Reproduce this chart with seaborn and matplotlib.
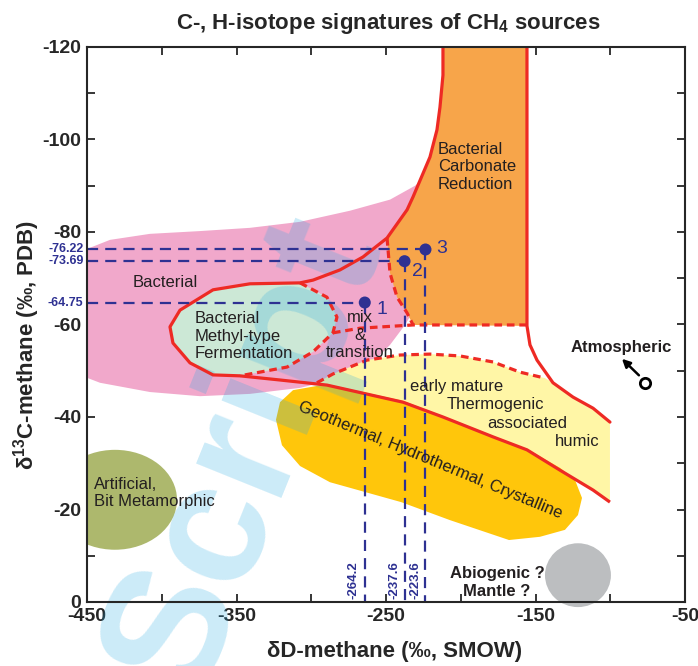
import numpy as np
import pandas as pd
import matplotlib
matplotlib.use("Agg")
import matplotlib.pyplot as plt
import seaborn as sns
from matplotlib.patches import Polygon, Ellipse
from matplotlib.ticker import FixedLocator

# ---------------- data ----------------
sample_ids = ["1", "2", "3"]
sample_dD = [-264.2, -237.6, -223.6]
sample_d13C = [-64.75, -73.69, -76.22]
sample_dD_labels = ["-264.2", "-237.6", "-223.6"]
sample_d13C_labels = ["-64.75", "-73.69", "-76.22"]

x_major = [-450, -350, -250, -150, -50]
x_minor = [-400, -300, -200, -100]
y_major = [0, -20, -40, -60, -80, -100, -120]
y_minor = [-10, -30, -50, -70, -90, -110]

# Bacterial (pink)
bact_dD = [-455, -434.6, -407.9, -374.4, -341.0, -307.5, -274.1, -247.3, -230.6, -219.2, -210.5,
           -207.2, -227.3, -237.3, -247.3, -260.7, -280.8, -307.5, -341.0, -374.4, -407.9, -441.3, -455]
bact_d13C = [-75.7, -78.3, -79.6, -80.2, -80.9, -82.2, -84.6, -87.0, -90.0, -93.0, -95.5,
             -80.4, -65.3, -59.9, -55.6, -51.2, -48.4, -46.3, -45.0, -44.5, -45.4, -47.4, -49.1]

# Methyl-type fermentation (green)
methyl_dD = [-347.7, -365.7, -381.1, -392.5, -394.5, -387.8, -365.7, -341.0, -307.5,
             -289.5, -282.8, -285.5, -298.8, -316.2]
methyl_d13C = [-48.9, -49.1, -51.7, -56.0, -59.5, -63.1, -67.5, -68.8, -69.0,
               -65.9, -61.6, -58.2, -54.1, -50.8]
methyl_dash_dD = [-307.5, -289.5, -282.8, -285.5, -298.8, -316.2, -347.7]
methyl_dash_d13C = [-69.0, -65.9, -61.6, -58.2, -54.1, -50.8, -48.9]

# Carbonate reduction (orange)
carb_dD = [-211.9, -155.7, -155.7, -231.9, -235.9, -242.6, -247.3, -249.3,
           -235.9, -231.9, -220.6, -215.9, -213.9, -211.9]
carb_d13C = [-121, -121, -59.7, -59.9, -62.5, -65.9, -71.1, -78.7,
             -84.8, -87.6, -96.2, -102.1, -107.0, -113.9]
carb_dash_dD = [-249.3, -247.3, -242.6, -235.9, -231.9]
carb_dash_d13C = [-78.7, -71.1, -65.9, -62.5, -59.9]
mix_dash_dD = [-285.5, -267.4, -231.9, -155.7]
mix_dash_d13C = [-58.2, -59.2, -59.9, -59.9]

# Thermogenic (light yellow)
thermo_top_dD = [-296.2, -285.5, -262.7, -240.6, -220.6, -200.5, -178.4, -160.4, -143.6]
thermo_top_d13C = [-47.4, -49.3, -52.3, -53.4, -53.6, -53.2, -51.9, -49.7, -48.4]
arc_dD = [-155.7, -155.7, -153.7, -149.0, -138.3, -124.9, -111.5, -100.2]
arc_d13C = [-121, -59.7, -55.6, -52.3, -47.4, -44.3, -41.9, -38.9]

# main red boundary (right end -> around methyl ellipse -> up to top)
red_dD = [-100.2, -111.5, -133.6, -155.7, -178.4, -211.9, -238.6, -289.5, -320.9, -347.7,
          -365.7, -381.1, -392.5, -394.5, -387.8, -365.7, -341.0, -307.5, -298.8, -280.8,
          -265.4, -249.3, -235.9, -231.9, -220.6, -215.9, -213.9, -211.9, -211.9]
red_d13C = [-21.6, -24.2, -28.5, -32.9, -35.7, -40.0, -43.2, -46.9, -48.0, -48.9,
            -49.1, -51.7, -56.0, -59.5, -63.1, -67.5, -68.8, -69.0, -69.6, -71.8,
            -74.6, -78.7, -84.8, -87.6, -96.2, -102.1, -107.0, -113.9, -121]

# Geothermal (gold)
geo_dD = [-323.6, -320.9, -312.2, -289.5, -238.6, -211.9, -178.4, -155.7, -133.6, -123.6,
          -118.9, -121.6, -130.3, -147.0, -167.7, -207.2, -239.9, -287.5, -307.5, -319.6]
geo_d13C = [-39.4, -43.2, -45.8, -47.1, -43.5, -40.2, -35.9, -33.1, -29.0, -26.4,
            -22.5, -18.8, -15.6, -14.1, -13.4, -17.7, -21.6, -25.9, -29.4, -33.9]

# Artificial (olive ellipse), Abiogenic (gray), Atmospheric (open point)
artificial_center = (-431.3, -22.1)
artificial_size = (83.0, 21.6)
abiogenic_center = (-121.6, -5.8)
abiogenic_size = (44.1, 13.8)
atmos_dD = [-76.8]
atmos_d13C = [-47.4]

# ---------------- style ----------------
sns.set_style("ticks")
plt.rcParams["font.family"] = ["Liberation Sans", "DejaVu Sans"]
plt.rcParams["mathtext.fontset"] = "custom"
plt.rcParams["mathtext.rm"] = "Liberation Sans:bold"
plt.rcParams["mathtext.it"] = "Liberation Sans:bold"
plt.rcParams["mathtext.bf"] = "Liberation Sans:bold"
plt.rcParams["mathtext.default"] = "rm"

RED = "#ee2a24"
NAVY = "#2e3192"
TXT = "#231f20"

fig = plt.figure(figsize=(6.98, 6.66), dpi=100)
ax = fig.add_axes([87 / 698, 1 - 602 / 666, 598 / 698, 555 / 666])
ax.set_xlim(-450, -50)
ax.set_ylim(0, -120)

def poly(xs, ys, color, z):
    ax.add_patch(Polygon(np.column_stack([xs, ys]), closed=True, facecolor=color,
                         edgecolor="none", zorder=z))

poly(bact_dD, bact_d13C, "#f1a8cb", 1)
ax.add_patch(Ellipse(artificial_center, *artificial_size, facecolor="#adb86d", edgecolor="none", zorder=1))
ax.add_patch(Ellipse(abiogenic_center, *abiogenic_size, facecolor="#bcbec0", edgecolor="none",
                     zorder=1, clip_on=False))
poly(methyl_dD, methyl_d13C, "#cce8d6", 1.1)
poly(carb_dD, carb_d13C, "#f7a54a", 1.2)
thermo_dD = thermo_top_dD + arc_dD[4:] + [-100.2] + red_dD[1:8]
thermo_d13C = thermo_top_d13C + arc_d13C[4:] + [-21.6] + red_d13C[1:8]
poly(thermo_dD, thermo_d13C, "#fff6a6", 1.3)
poly(geo_dD, geo_d13C, "#ffc60b", 1.4)

# watermark
ax.text(0.352, 0.318, "Script", transform=fig.transFigure, rotation=68, fontsize=125,
        fontweight="bold", color="#29abe2", alpha=0.24, ha="center", va="center",
        zorder=1.6, clip_on=False)

# red boundaries
ax.plot(red_dD, red_d13C, color=RED, lw=2.3, zorder=3, solid_capstyle="butt")
ax.plot(arc_dD, arc_d13C, color=RED, lw=2.3, zorder=3)
dash = (0, (2.4, 1.5))
for xs, ys in [(methyl_dash_dD, methyl_dash_d13C), (carb_dash_dD, carb_dash_d13C),
               (mix_dash_dD, mix_dash_d13C), (thermo_top_dD, thermo_top_d13C)]:
    ax.plot(xs, ys, color=RED, lw=2.3, ls=dash, zorder=3)

# sample guide lines
ndash = (0, (5, 3.2))
for x, y in zip(sample_dD, sample_d13C):
    ax.plot([-450, x], [y, y], color=NAVY, lw=1.6, ls=ndash, zorder=4)
    ax.plot([x, x], [y, 0], color=NAVY, lw=1.6, ls=ndash, zorder=4)

df = pd.DataFrame({"dD": sample_dD, "d13C": sample_d13C, "id": sample_ids})
sns.scatterplot(data=df, x="dD", y="d13C", color=NAVY, s=75, edgecolor="none", zorder=5, ax=ax, legend=False)
offsets = [(11.5, 1.6), (8.3, 2.3), (11.0, -0.3)]
for (x, y, lab), (dx, dy) in zip(zip(sample_dD, sample_d13C, sample_ids), offsets):
    ax.text(x + dx, y + dy, lab, color=NAVY, fontsize=14, ha="center", va="center", zorder=6)

for y, lab in zip(sample_d13C, sample_d13C_labels):
    ax.text(-0.006, y, lab, transform=ax.get_yaxis_transform(), color=NAVY, fontsize=9,
            fontweight="bold", ha="right", va="center", clip_on=False)
for x, lab, dx in zip(sample_dD, sample_dD_labels, [-7.5, -7.0, -7.0]):
    ax.text(x + dx, -0.6, lab, color=NAVY, fontsize=9.5, fontweight="bold", rotation=90,
            ha="center", va="bottom", zorder=6)

# atmospheric
sns.scatterplot(x=atmos_dD, y=atmos_d13C, marker="o", s=55, facecolor="white",
                edgecolor="black", linewidth=2, zorder=6, ax=ax, legend=False)
ax.annotate("", xy=(-93.5, -53.0), xytext=(-79.5, -48.6),
            arrowprops=dict(arrowstyle="-|>", color="black", lw=1.8, mutation_scale=12), zorder=6)
ax.text(-92.5, -55.0, "Atmospheric", fontsize=12, fontweight="bold", color=TXT,
        ha="center", va="center", zorder=6)

# region labels
kw = dict(fontsize=12, color=TXT, zorder=6)
ax.text(-419.2, -69.0, "Bacterial", ha="left", va="center", **kw)
ax.text(-377.8, -57.5, "Bacterial\nMethyl-type\nFermentation", ha="left", va="center", linespacing=1.2, **kw)
ax.text(-267.4, -57.7, "mix\n&\ntransition", ha="center", va="center", linespacing=1.2, **kw)
ax.text(-215.2, -94.1, "Bacterial\nCarbonate\nReduction", ha="left", va="center", linespacing=1.2, **kw)
ax.text(-234.0, -46.5, "early mature", ha="left", va="center", **kw)
ax.text(-209.2, -42.6, "Thermogenic", ha="left", va="center", **kw)
ax.text(-182.4, -38.7, "associated", ha="left", va="center", **kw)
ax.text(-137.0, -34.6, "humic", ha="left", va="center", **kw)
ax.text(-220.6, -30.7, "Geothermal, Hydrothermal, Crystalline", ha="center", va="center",
        rotation=-22.4, rotation_mode="anchor", **kw)
ax.text(-445.6, -23.6, "Artificial,\nBit Metamorphic", ha="left", va="center", linespacing=1.2, **kw)
ax.text(-175.8, -4.3, "Abiogenic ?\nMantle ?", ha="center", va="center", fontweight="bold",
        linespacing=1.25, fontsize=12, color=TXT, zorder=6)

# axes styling
ax.xaxis.set_major_locator(FixedLocator(x_major))
ax.xaxis.set_minor_locator(FixedLocator(x_minor))
ax.yaxis.set_major_locator(FixedLocator(y_major))
ax.yaxis.set_minor_locator(FixedLocator(y_minor))
ax.set_xticklabels([str(v) for v in x_major])
ax.set_yticklabels([str(v) for v in y_major])
ax.tick_params(which="both", direction="in", top=True, right=True, length=6, width=1.3,
               labelsize=14, pad=4)
for lab in ax.get_xticklabels() + ax.get_yticklabels():
    lab.set_fontweight("bold")
for s in ax.spines.values():
    s.set_linewidth(1.5)
    s.set_zorder(7)
ax.set_xlabel("")
ax.set_ylabel("")

fig.text(395 / 698, 1 - 652 / 666, "δD-methane (‰, SMOW)", fontsize=16, fontweight="bold",
         ha="center", va="center")
fig.text(27 / 698, 1 - 345 / 666, r"δ$^{13}$C-methane (‰, PDB)", fontsize=16, fontweight="bold",
         ha="center", va="center", rotation=90)
fig.text(388 / 698, 1 - 23 / 666, r"C-, H-isotope signatures of CH$_4$ sources", fontsize=16,
         fontweight="bold", ha="center", va="center")

fig.savefig("out.png", dpi=100)
